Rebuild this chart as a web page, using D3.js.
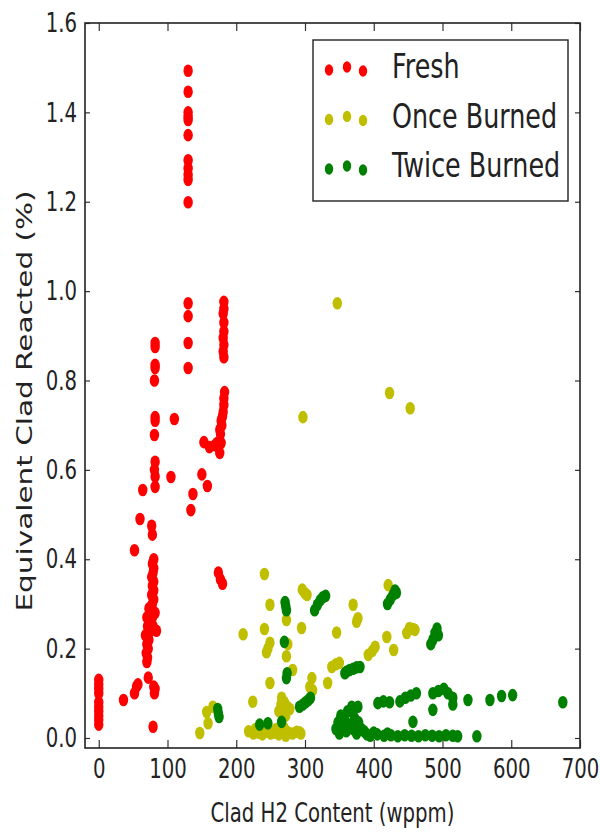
<!DOCTYPE html>
<html>
<head>
<meta charset="utf-8">
<script src="https://cdn.jsdelivr.net/npm/d3@7"></script>
<style>
  body { margin: 0; background: #fff; }
  text { font-family: "DejaVu Sans", sans-serif; fill: #222; }
</style>
</head>
<body>
<svg id="chart" width="600" height="833"></svg>
<script>
// values: [clad H2 content (wppm), equivalent clad reacted (%)]
var fresh = [
  [0, 0.13], [0, 0.12], [0, 0.11], [0, 0.10], [0, 0.08], [0, 0.07], [0, 0.06], [0, 0.05], [0, 0.04], [0, 0.03],
  [36, 0.085], [52, 0.10], [55, 0.115], [57, 0.12],
  [72, 0.135], [80, 0.115], [81, 0.10], [79, 0.025], [82, 0.11],
  [70, 0.17], [71, 0.18], [69, 0.19], [72, 0.20], [70, 0.21], [73, 0.22], [68, 0.23], [75, 0.24], [71, 0.25],
  [79, 0.25], [84, 0.24], [74, 0.26], [70, 0.27], [78, 0.27], [76, 0.28], [82, 0.28], [73, 0.29], [78, 0.30],
  [80, 0.31], [77, 0.32], [80, 0.33], [78, 0.34], [80, 0.35], [77, 0.36], [79, 0.37], [80, 0.38], [78, 0.39], [80, 0.40],
  [52, 0.42], [78, 0.455], [77, 0.475], [60, 0.49], [64, 0.555],
  [82, 0.562], [82, 0.585], [81, 0.60], [82, 0.618], [81, 0.678], [82, 0.71], [82, 0.718], [81, 0.80],
  [82, 0.828], [82, 0.835], [82, 0.875], [82, 0.884],
  [110, 0.714], [105, 0.584],
  [130, 0.973], [130, 0.944], [130, 0.884], [130, 0.828],
  [134, 0.51], [137, 0.546], [150, 0.59], [158, 0.564],
  [153, 0.662], [161, 0.651], [169, 0.655], [176, 0.638], [172, 0.66],
  [178, 0.66], [177, 0.68], [179, 0.70], [178, 0.71], [180, 0.72], [181, 0.73], [182, 0.745], [182, 0.76], [183, 0.774], [176, 0.69],
  [182, 0.852], [181, 0.865], [182, 0.88], [181, 0.895], [182, 0.91], [182, 0.93], [181, 0.95], [182, 0.96], [182, 0.976],
  [174, 0.37], [177, 0.355], [180, 0.345],
  [130, 1.493], [130, 1.446], [130, 1.40], [130, 1.39], [130, 1.383], [130, 1.349], [130, 1.293], [130, 1.275],
  [130, 1.26], [130, 1.249], [130, 1.199]
];

var onceBurned = [
  [347, 0.973], [297, 0.718], [423, 0.772], [453, 0.738],
  [241, 0.367], [296, 0.332], [300, 0.324], [303, 0.32],
  [249, 0.298], [370, 0.298], [273, 0.264], [210, 0.232], [241, 0.244], [295, 0.246], [346, 0.236], [375, 0.26], [377, 0.268],
  [249, 0.213], [246, 0.20], [244, 0.192], [275, 0.21], [273, 0.183], [282, 0.152], [310, 0.134], [333, 0.123],
  [249, 0.123], [311, 0.107], [307, 0.114],
  [339, 0.159], [345, 0.165], [350, 0.168],
  [224, 0.081],
  [262, 0.06], [266, 0.09], [270, 0.08], [274, 0.07], [268, 0.06], [278, 0.065], [272, 0.05], [265, 0.075],
  [218, 0.015], [225, 0.01], [232, 0.012], [238, 0.008], [244, 0.014], [250, 0.01], [256, 0.012], [262, 0.008],
  [268, 0.015], [272, 0.005], [276, 0.012], [282, 0.01], [288, 0.014], [294, 0.01], [228, 0.02], [258, 0.02], [270, 0.022],
  [147, 0.011], [157, 0.058], [159, 0.033], [166, 0.07],
  [392, 0.186], [398, 0.195], [402, 0.204], [419, 0.226], [429, 0.197], [421, 0.342],
  [448, 0.235], [452, 0.246], [457, 0.244], [460, 0.242],
  [292, 0.013]
];

var twiceBurned = [
  [173, 0.065], [174, 0.055], [175, 0.047],
  [271, 0.304], [272, 0.295], [273, 0.286],
  [314, 0.286], [318, 0.298], [322, 0.308], [326, 0.315], [330, 0.318],
  [270, 0.215], [273, 0.134], [274, 0.145],
  [292, 0.07], [297, 0.075], [301, 0.08], [305, 0.085], [308, 0.09],
  [246, 0.033], [266, 0.036], [234, 0.03],
  [360, 0.148], [365, 0.152], [370, 0.155], [375, 0.158], [380, 0.159], [358, 0.145],
  [420, 0.30], [424, 0.31], [428, 0.32], [431, 0.33], [433, 0.325],
  [483, 0.21], [486, 0.22], [489, 0.235], [492, 0.245], [494, 0.23],
  [345, 0.02], [348, 0.035], [352, 0.05], [350, 0.01], [355, 0.025], [358, 0.04], [360, 0.015], [362, 0.06],
  [365, 0.03], [368, 0.07], [370, 0.02], [372, 0.045], [375, 0.01], [378, 0.035], [382, 0.02], [386, 0.015],
  [377, 0.07], [406, 0.078], [414, 0.082], [423, 0.08], [438, 0.082], [446, 0.09], [454, 0.095], [462, 0.1],
  [486, 0.1], [494, 0.105], [502, 0.11], [508, 0.1], [486, 0.063], [515, 0.09], [515, 0.075], [537, 0.085],
  [569, 0.085], [586, 0.094], [602, 0.096], [675, 0.08],
  [395, 0.005], [405, 0.008], [415, 0.005], [425, 0.006], [435, 0.004], [445, 0.006], [455, 0.005], [465, 0.004],
  [475, 0.006], [485, 0.005], [495, 0.004], [505, 0.006], [515, 0.005], [522, 0.004], [457, 0.036], [550, 0.004],
  [390, 0.008], [400, 0.012], [420, 0.01]
];

var seriesNames = ['Fresh', 'Once Burned', 'Twice Burned'];
var seriesColors = ['#ff0000', '#bfbf00', '#008000'];
var xTicks = [0, 100, 200, 300, 400, 500, 600, 700];
var yTicks = [0.0, 0.2, 0.4, 0.6, 0.8, 1.0, 1.2, 1.4, 1.6];

// the source picture is squeezed sideways, text and dots follow that
var squeeze = 0.73;
var margin = {top: 23, right: 20, bottom: 85, left: 85};
var width = 600, height = 833;

var svg = d3.select('#chart');

var x = d3.scaleLinear().domain([-20, 700]).range([margin.left, width - margin.right]);
var y = d3.scaleLinear().domain([-0.0224, 1.6]).range([height - margin.bottom, margin.top]);

// points
var all = [fresh, onceBurned, twiceBurned];
all.forEach(function(data, i) {
  svg.append('g')
    .selectAll('ellipse')
    .data(data)
    .enter()
    .append('ellipse')
    .attr('cx', function(d) { return x(d[0]); })
    .attr('cy', function(d) { return y(d[1]); })
    .attr('rx', 4.7)
    .attr('ry', 6.3)
    .attr('fill', seriesColors[i]);
});

// axes, ticks pointing in on all four sides
var xAxis = svg.append('g')
  .attr('transform', 'translate(0,' + y.range()[0] + ')')
  .call(d3.axisBottom(x).tickValues(xTicks).tickSize(-8).tickPadding(11).tickFormat(d3.format('d')));
svg.append('g')
  .attr('transform', 'translate(0,' + y.range()[1] + ')')
  .call(d3.axisTop(x).tickValues(xTicks).tickSize(-8).tickFormat(''));
var yAxis = svg.append('g')
  .attr('transform', 'translate(' + x.range()[0] + ',0)')
  .call(d3.axisLeft(y).tickValues(yTicks).tickSize(-5).tickPadding(8).tickFormat(d3.format('.1f')));
svg.append('g')
  .attr('transform', 'translate(' + x.range()[1] + ',0)')
  .call(d3.axisRight(y).tickValues(yTicks).tickSize(-5).tickFormat(''));

svg.selectAll('.domain').remove();
svg.selectAll('.tick line').attr('stroke', '#333').attr('stroke-width', 1.2);

xAxis.selectAll('.tick text')
  .attr('font-size', 27)
  .attr('transform', 'scale(' + squeeze + ',1)');
yAxis.selectAll('.tick text')
  .attr('font-size', 27)
  .attr('x', -8 / squeeze)
  .attr('transform', 'scale(' + squeeze + ',1)');

svg.append('rect')
  .attr('x', x.range()[0])
  .attr('y', y.range()[1])
  .attr('width', x.range()[1] - x.range()[0])
  .attr('height', y.range()[0] - y.range()[1])
  .attr('fill', 'none')
  .attr('stroke', '#222')
  .attr('stroke-width', 1.6);

// axis titles
svg.append('text')
  .attr('transform', 'translate(' + ((x.range()[0] + x.range()[1]) / 2) + ',822) scale(' + squeeze + ',1)')
  .attr('text-anchor', 'middle')
  .attr('font-size', 27)
  .text('Clad H2 Content (wppm)');

svg.append('text')
  .attr('transform', 'translate(32,401) scale(' + squeeze + ',1) rotate(-90)')
  .attr('text-anchor', 'middle')
  .attr('font-size', 29.5)
  .text('Equivalent Clad Reacted (%)');

// legend
var legend = svg.append('g');
legend.append('rect')
  .attr('x', 313).attr('y', 40)
  .attr('width', 255).attr('height', 161)
  .attr('fill', '#fff')
  .attr('stroke', '#222')
  .attr('stroke-width', 1.4);

var dotOffsets = [[0, -8], [18, -11], [34, -7]];
seriesNames.forEach(function(name, i) {
  var row = legend.append('g').attr('transform', 'translate(329,' + (78 + i * 49.5) + ')');
  row.selectAll('ellipse')
    .data(dotOffsets)
    .enter()
    .append('ellipse')
    .attr('cx', function(d) { return d[0]; })
    .attr('cy', function(d) { return d[1]; })
    .attr('rx', 4.2)
    .attr('ry', 5.8)
    .attr('fill', seriesColors[i]);
  row.append('text')
    .attr('transform', 'translate(63,0) scale(0.77,1)')
    .attr('font-size', 33)
    .text(name);
});
</script>
</body>
</html>
